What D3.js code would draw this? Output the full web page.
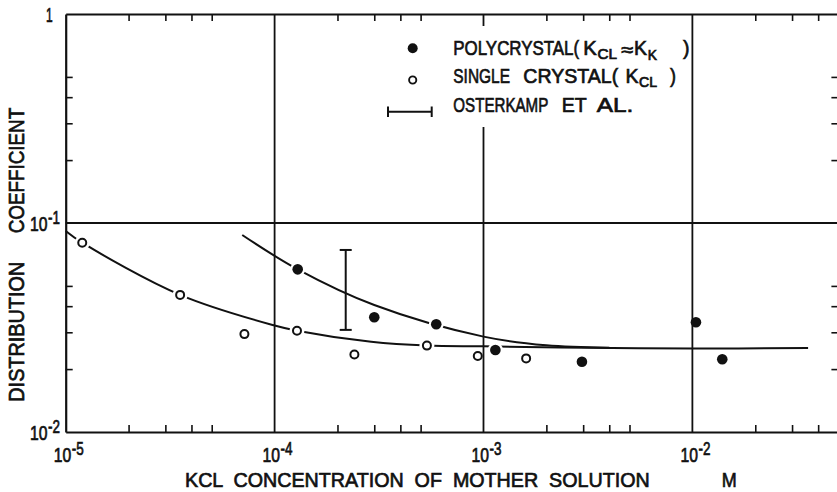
<!DOCTYPE html>
<html>
<head>
<meta charset="utf-8">
<script src="https://cdn.jsdelivr.net/npm/d3@7"></script>
<style>
  html, body { margin: 0; padding: 0; background: #fff; }
  svg { display: block; }
  text { font-family: "Liberation Sans", "DejaVu Sans", sans-serif; fill: #111; stroke: #111; stroke-width: 0.7; white-space: pre; }
</style>
</head>
<body>
<svg id="chart" width="837" height="492"></svg>
<script>
// Polycrystal measurements (K_Cl ~ K_K)
const polyConc = [1.29e-4, 3.0e-4, 5.94e-4, 1.14e-3, 2.96e-3, 1.04e-2, 1.39e-2];
const polyK    = [0.060, 0.0354, 0.0328, 0.0247, 0.0217, 0.0335, 0.0223];

// Single crystal measurements (K_Cl)
const singleConc = [1.2e-5, 3.53e-5, 7.17e-5, 1.28e-4, 2.41e-4, 5.36e-4, 9.39e-4, 1.6e-3];
const singleK    = [0.0805, 0.0453, 0.0294, 0.0305, 0.0235, 0.0259, 0.0231, 0.0225];

// Osterkamp et al. range
const osterConc = [2.19e-4];
const osterLow  = [0.0308];
const osterHigh = [0.0743];

// Hand-drawn trend curves
const polyFitConc = [7.0e-5, 1.29e-4, 3.0e-4, 1.0e-3, 2.0e-3, 4.0e-3];
const polyFitK    = [0.0876, 0.060, 0.0405, 0.0286, 0.0260, 0.0253];
const singleFitConc = [1.0e-5, 1.2e-5, 3.53e-5, 1.0e-4, 1.28e-4, 2.9e-4, 5.36e-4, 1.0e-3, 2.33e-3, 1.0e-2, 3.58e-2];
const singleFitK    = [0.0916, 0.0805, 0.0453, 0.0323, 0.0305, 0.0270, 0.0259, 0.0257, 0.0254, 0.0251, 0.0252];

// Axis ticks
const xDecadeExps = [-5, -4, -3, -2];
const xGridValues = [1e-4, 1e-3, 1e-2];
const yGridValues = [1e-1];
const xMinorTicks = [2e-5, 3e-5, 4e-5, 5e-5, 2e-4, 3e-4, 4e-4, 5e-4, 2e-3, 3e-3, 4e-3, 5e-3, 2e-2, 3e-2, 4e-2];
const yMinorTicks = [0.02, 0.03, 0.04, 0.05, 0.2, 0.3, 0.4, 0.5];
const yTickLabels = [{ v: 1, exp: null }, { v: 1e-1, exp: -1 }, { v: 1e-2, exp: -2 }];

const svg = d3.select("#chart");
const ink = "#111";

const x = d3.scaleLog().domain([1e-5, 5e-2]).range([65.7, 838.4]);
const y = d3.scaleLog().domain([1e-2, 1]).range([432, 14]);

const [x0, x1] = x.range();
const [yb, yt] = y.range();

// narrow lettering: each run is squeezed horizontally to a set length
function txt(g, str, tx, ty, len, size) {
  const t = g.append("text")
    .attr("x", 0).attr("y", 0)
    .attr("font-size", size)
    .text(str);
  const w = t.node().getComputedTextLength() || len;
  t.attr("transform", `translate(${tx},${ty}) scale(${len / w},1)`);
  return t;
}
function pow10(g, exp, tx, ty) {
  txt(g, "10", tx, ty, 17.5, 21);
  txt(g, "-" + Math.abs(exp), tx + 18, ty - 7, 12, 19);
}

// ---- trend curves ----
const line = d3.line()
  .x(d => x(d[0])).y(d => y(d[1]))
  .curve(d3.curveCatmullRom.alpha(0.5));

const curves = svg.append("g").attr("fill", "none").attr("stroke", ink).attr("stroke-width", 2);
curves.append("path").attr("d", line(d3.zip(singleFitConc, singleFitK)));
curves.append("path").attr("d", line(d3.zip(polyFitConc, polyFitK)));

// white gaps where curves meet markers
const halos = svg.append("g").attr("fill", "#fff");
d3.zip(singleConc, singleK).concat(d3.zip(polyConc, polyK)).forEach(d => {
  halos.append("circle").attr("cx", x(d[0])).attr("cy", y(d[1])).attr("r", 7.5);
});

// ---- grid lines at decades ----
const grid = svg.append("g").attr("stroke", ink).attr("stroke-width", 1.8);
xGridValues.forEach(v => {
  grid.append("line").attr("x1", x(v)).attr("x2", x(v)).attr("y1", yt).attr("y2", yb);
});
yGridValues.forEach(v => {
  grid.append("line").attr("x1", x0).attr("x2", x1).attr("y1", y(v)).attr("y2", y(v));
});

// ---- frame with inward minor ticks ----
function styleAxis(g) {
  g.select(".domain").attr("stroke", ink).attr("stroke-width", 2.2);
  g.selectAll(".tick line").attr("stroke", ink).attr("stroke-width", 1.6);
  g.selectAll(".tick text").remove();
}
svg.append("g").attr("transform", `translate(0,${yb})`)
  .call(d3.axisBottom(x).tickValues(xMinorTicks).tickSize(-7).tickSizeOuter(0).tickFormat(""))
  .call(styleAxis);
svg.append("g").attr("transform", `translate(0,${yt})`)
  .call(d3.axisTop(x).tickValues(xMinorTicks).tickSize(-7).tickSizeOuter(0).tickFormat(""))
  .call(styleAxis);
svg.append("g").attr("transform", `translate(${x0},0)`)
  .call(d3.axisLeft(y).tickValues(yMinorTicks).tickSize(-7).tickSizeOuter(0).tickFormat(""))
  .call(styleAxis);
svg.append("g").attr("transform", `translate(${x1},0)`)
  .call(d3.axisRight(y).tickValues(yMinorTicks).tickSize(-7).tickSizeOuter(0).tickFormat(""))
  .call(styleAxis);

// ---- legend (clears the grid line behind it) ----
const leg = svg.append("g");
leg.append("rect").attr("x", 380).attr("y", 26).attr("width", 308).attr("height", 101).attr("fill", "#fff");
leg.append("circle").attr("cx", 412.7).attr("cy", 48.3).attr("r", 5).attr("fill", ink);
leg.append("circle").attr("cx", 412.7).attr("cy", 80).attr("r", 3.6)
  .attr("fill", "#fff").attr("stroke", ink).attr("stroke-width", 1.9);
const lb = leg.append("g").attr("stroke", ink).attr("stroke-width", 2);
lb.append("line").attr("x1", 388).attr("x2", 431.7).attr("y1", 111.7).attr("y2", 111.7);
lb.append("line").attr("x1", 388).attr("x2", 388).attr("y1", 106.5).attr("y2", 117);
lb.append("line").attr("x1", 431.7).attr("x2", 431.7).attr("y1", 106.5).attr("y2", 117);

txt(leg, "POLYCRYSTAL(", 453.3, 55, 126, 21);
txt(leg, "K", 583.3, 55, 13.5, 21);
txt(leg, "CL", 597.5, 58.5, 19.5, 14);
txt(leg, "\u2248", 621.5, 56, 12, 18);
txt(leg, "K", 634, 55, 13, 21);
txt(leg, "K", 647.8, 60, 9.2, 14);
txt(leg, ")", 683, 55, 6.5, 21);

txt(leg, "SINGLE", 453.3, 83.3, 56.7, 21);
txt(leg, "CRYSTAL(", 523.3, 83.3, 95, 21);
txt(leg, "K", 625.5, 83.3, 13, 21);
txt(leg, "CL", 639, 86.7, 18, 14);
txt(leg, ")", 670, 83.3, 6, 21);

txt(leg, "OSTERKAMP", 453.3, 111.7, 95, 21);
txt(leg, "ET", 561.7, 111.7, 25, 21);
txt(leg, "AL.", 596.7, 111.7, 36.6, 21);

// ---- data marks ----
const eb = svg.append("g").attr("stroke", ink).attr("stroke-width", 2);
osterConc.forEach((c, i) => {
  const cx = x(c);
  eb.append("line").attr("x1", cx).attr("x2", cx).attr("y1", y(osterLow[i])).attr("y2", y(osterHigh[i]));
  eb.append("line").attr("x1", cx - 6).attr("x2", cx + 6).attr("y1", y(osterLow[i])).attr("y2", y(osterLow[i]));
  eb.append("line").attr("x1", cx - 6).attr("x2", cx + 6).attr("y1", y(osterHigh[i])).attr("y2", y(osterHigh[i]));
});

svg.append("g").selectAll("circle")
  .data(d3.zip(singleConc, singleK)).join("circle")
  .attr("cx", d => x(d[0])).attr("cy", d => y(d[1])).attr("r", 4)
  .attr("fill", "#fff").attr("stroke", ink).attr("stroke-width", 2);

svg.append("g").selectAll("circle")
  .data(d3.zip(polyConc, polyK)).join("circle")
  .attr("cx", d => x(d[0])).attr("cy", d => y(d[1])).attr("r", 5.3)
  .attr("fill", ink);

// ---- tick labels ----
const lab = svg.append("g");
xDecadeExps.forEach(e => pow10(lab, e, x(Math.pow(10, e)) - 12, 461.7));
yTickLabels.forEach(d => {
  const ty = y(d.v) + 7.7;
  if (d.exp === null) txt(lab, "1", 46, ty, 6.7, 21);
  else pow10(lab, d.exp, 30, ty);
});

// ---- axis titles ----
txt(lab, "KCL  CONCENTRATION  OF  MOTHER  SOLUTION", 185, 486.7, 465, 21);
txt(lab, "M", 721.7, 486.7, 15, 21);

const yt1 = lab.append("g").attr("transform", "translate(24,0) rotate(-90)");
txt(yt1, "COEFFICIENT", -233.3, 0, 125.6, 22);
txt(yt1, "DISTRIBUTION", -401.7, 0, 140, 22);
</script>
</body>
</html>
